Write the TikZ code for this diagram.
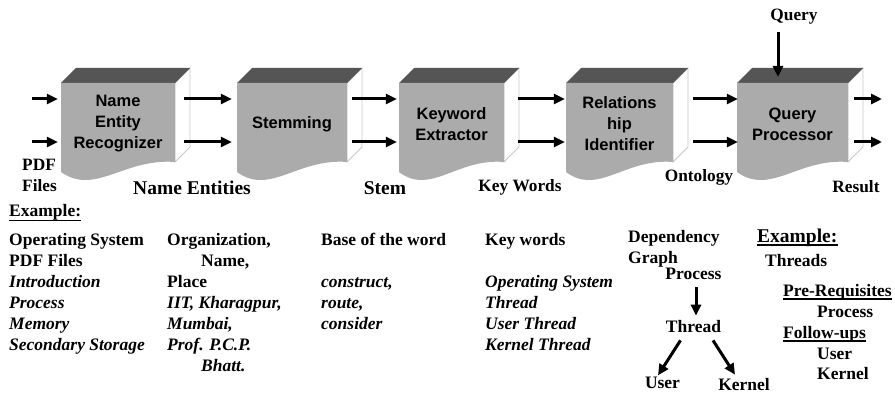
\documentclass[tikz,border=0pt]{standalone}
\usepackage{fontspec}
\setmainfont{Liberation Serif}
\newfontfamily\boxfont{Liberation Sans}
\usetikzlibrary{arrows.meta}
\definecolor{facegray}{HTML}{ABABAB}
\definecolor{topgray}{HTML}{555555}
\definecolor{sidegray}{HTML}{C8C8C8}
\tikzset{
  boxtext/.style={font=\boxfont\bfseries\fontsize{16.5}{21}\selectfont, align=center, inner sep=0pt},
  lab/.style={font=\bfseries\fontsize{17.5}{21}\selectfont, inner sep=0pt, anchor=base west},
  labc/.style={font=\bfseries\fontsize{17.3}{21}\selectfont, inner sep=0pt, anchor=base},
  biglab/.style={font=\bfseries\fontsize{19.5}{21}\selectfont, inner sep=0pt, anchor=base},
  arr/.style={line width=3pt, -{Triangle[length=11pt,width=10pt]}},
  uline/.style={line width=1.6pt},
}
\newcommand\procbox[4]{%
  \filldraw[fill=white, draw=sidegray, line width=0.8pt] ({#1+#2},83) -- ({#1+#2+15},68) -- ({#1+#2+15},147) -- ({#1+#2},162) -- cycle;
  \fill[topgray] (#1,83) -- ({#1+15},68) -- ({#1+#2+15},68) -- ({#1+#2},83) -- cycle;
  \fill[facegray] (#1,83) -- ({#1+#2},83) -- ({#1+#2},162) .. controls ({#1+0.55*#2},158) and ({#1+0.3*#2},196) .. (#1,172) -- cycle;
  \node[boxtext, minimum width=#2pt] (#3) at ({#1+#2/2},124) {#4};
}
\begin{document}
\begin{tikzpicture}[x=1pt,y=-1pt]
\useasboundingbox (0,0) rectangle (895,393);

% process boxes
\procbox{61}{114}{box1}{Name\\Entity\\Recognizer}
\procbox{237}{110}{box2}{Stemming}
\procbox{399}{105}{box3}{Keyword\\Extractor}
\procbox{566}{107}{box4}{Relations\\hip\\Identifier}
\procbox{737}{111}{box5}{Query\\Processor}

% inputs
\coordinate (inA) at (32,99);
\coordinate (inB) at (32,142);
\draw[arr] (inA) -- ([shift={(-3pt,25pt)}]box1.west);
\draw[arr] (inB) -- ([shift={(-3pt,-18pt)}]box1.west);

% between boxes
\draw[arr] ([shift={(9pt,25pt)}]box1.east) -- ([shift={(-5pt,25pt)}]box2.west);
\draw[arr] ([shift={(9pt,-18pt)}]box1.east) -- ([shift={(-5pt,-18pt)}]box2.west);
\draw[arr] ([shift={(5pt,25pt)}]box2.east) -- ([shift={(-2pt,25pt)}]box3.west);
\draw[arr] ([shift={(5pt,-18pt)}]box2.east) -- ([shift={(-2pt,-18pt)}]box3.west);
\draw[arr] ([shift={(14pt,25pt)}]box3.east) -- ([shift={(-1pt,25pt)}]box4.west);
\draw[arr] ([shift={(14pt,-18pt)}]box3.east) -- ([shift={(-1pt,-18pt)}]box4.west);
\draw[arr] ([shift={(20pt,25pt)}]box4.east) -- ([shift={(1pt,25pt)}]box5.west);
\draw[arr] ([shift={(20pt,-18pt)}]box4.east) -- ([shift={(1pt,-18pt)}]box5.west);

% outputs
\coordinate (outA) at (882,99);
\coordinate (outB) at (882,142);
\draw[arr] ([shift={(6pt,25pt)}]box5.east) -- (outA);
\draw[arr] ([shift={(6pt,-18pt)}]box5.east) -- (outB);

% query
\node[labc] (query) at (794,21) {Query};
\coordinate (qin) at (778,77);
\coordinate (qout) at (778,32);
\draw[arr] (qout) -- (qin);

% labels under boxes
\node[lab, font=\bfseries\fontsize{17.3}{21}\selectfont] (pdf) at (22,171) {PDF};
\node[lab, font=\bfseries\fontsize{17.3}{21}\selectfont] (files) at (22,192) {Files};
\node[biglab] (nament) at (192,195) {Name Entities};
\node[biglab] (stem) at (385,195) {Stem};
\node[labc] (keyw) at (520,192) {Key Words};
\node[labc] (onto) at (699,182) {Ontology};
\node[labc] (result) at (856,193) {Result};

% example header
\node[lab] (ex1) at (9,217) {Example:};
\draw[uline] ([yshift=-3.5pt]ex1.base west) -- ([yshift=-3.5pt]ex1.base east);

% column 1
\node[lab] (c1a) at (9,245) {Operating System};
\node[lab] (c1b) at (9,266) {PDF Files};
\node[lab] (c1c) at (9,287) {\itshape Introduction};
\node[lab] (c1d) at (9,308) {\itshape Process};
\node[lab] (c1e) at (9,329) {\itshape Memory};
\node[lab] (c1f) at (9,350) {\itshape Secondary Storage};

% column 2
\node[lab] (c2a) at (167,245) {Organization,};
\node[lab] (c2b) at (201,266) {Name,};
\node[lab] (c2c) at (167,287) {Place};
\node[lab] (c2d) at (167,308) {\itshape IIT, Kharagpur,};
\node[lab] (c2e) at (167,329) {\itshape Mumbai,};
\node[lab] (c2f) at (167,350) {\itshape Prof. P.C.P.};
\node[lab] (c2g) at (201,371) {\itshape Bhatt.};

% column 3
\node[lab] (c3a) at (321,245) {Base of the word};
\node[lab] (c3b) at (321,287) {\itshape construct,};
\node[lab] (c3c) at (321,308) {\itshape route,};
\node[lab] (c3d) at (321,329) {\itshape consider};

% column 4
\node[lab] (c4a) at (485,245) {Key words};
\node[lab] (c4b) at (485,287) {\itshape Operating System};
\node[lab] (c4c) at (485,308) {\itshape Thread};
\node[lab] (c4d) at (485,329) {\itshape User Thread};
\node[lab] (c4e) at (485,350) {\itshape Kernel Thread};

% dependency graph
\node[lab] (dep) at (628,242) {Dependency};
\node[lab] (graph) at (628,263) {Graph};
\node[labc, font=\bfseries\fontsize{17.5}{21}\selectfont] (proc) at (693.5,279) {Process};
\node[labc, font=\bfseries\fontsize{17.5}{21}\selectfont] (thr) at (693.5,332) {Thread};
\node[labc, font=\bfseries\fontsize{17.5}{21}\selectfont] (usr) at (662.5,388) {User};
\node[labc, font=\bfseries\fontsize{17.5}{21}\selectfont] (ker) at (744,390) {Kernel};
\draw[arr] ([shift={(2.5pt,-8pt)}]proc.south) -- ([shift={(2.5pt,4pt)}]thr.north);
\draw[arr] ([shift={(-13pt,-8pt)}]thr.south) -- ([shift={(-4.5pt,1pt)}]usr.north);
\draw[arr] ([shift={(19.5pt,-8pt)}]thr.south) -- ([shift={(-9pt,3pt)}]ker.north);

% right example
\node[lab, font=\bfseries\fontsize{19.5}{21}\selectfont] (ex2) at (757,242) {Example:};
\draw[uline] ([yshift=-3pt]ex2.base west) -- ([yshift=-3pt]ex2.base east);
\node[lab] (thrs) at (765,266) {Threads};
\node[lab] (prereq) at (783,296) {Pre-Requisites};
\draw[uline] ([yshift=-3pt]prereq.base west) -- ([yshift=-3pt]prereq.base east);
\node[lab] (pproc) at (817,317) {Process};
\node[lab] (follow) at (783,338) {Follow-ups};
\draw[uline] ([yshift=-3pt]follow.base west) -- ([yshift=-3pt]follow.base east);
\node[lab] (fuser) at (817,359) {User};
\node[lab] (fker) at (817,379) {Kernel};
\end{tikzpicture}
\end{document}
